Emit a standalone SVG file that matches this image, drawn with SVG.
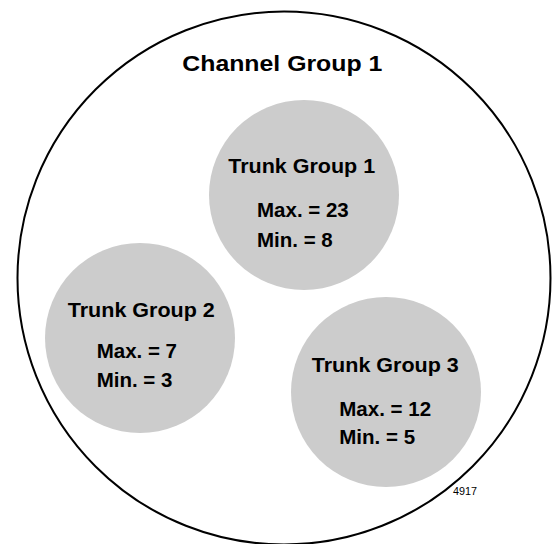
<svg xmlns="http://www.w3.org/2000/svg" width="553" height="544" viewBox="0 0 553 544">
<style>
.t{font-family:"Liberation Sans",Arial,Helvetica,sans-serif;font-weight:bold;fill:#000}
.h{font-size:21px;text-anchor:middle}
.v{font-size:20.5px}
.tg{fill:#cccccc;stroke:none}
</style>
<rect width="553" height="544" fill="#fff"/>
<g id="channel-group-1">
<circle cx="284" cy="278" r="266.5" fill="none" stroke="#000" stroke-width="2"/>
<text class="t" x="282.3" y="71" font-size="22.5" text-anchor="middle" textLength="200" lengthAdjust="spacingAndGlyphs">Channel Group 1</text>
</g>
<g id="trunk-group-1">
<circle class="tg" cx="304" cy="195" r="95"/>
<text class="t h" x="301.7" y="173.3" textLength="147" lengthAdjust="spacingAndGlyphs">Trunk Group 1</text>
<text class="t v" x="257" y="217.3">Max. = 23</text>
<text class="t v" x="257" y="246.7">Min. = 8</text>
</g>
<g id="trunk-group-2">
<circle class="tg" cx="140" cy="338" r="95"/>
<text class="t h" x="141.3" y="316.7" textLength="147" lengthAdjust="spacingAndGlyphs">Trunk Group 2</text>
<text class="t v" x="96.7" y="358.3">Max. = 7</text>
<text class="t v" x="96.7" y="387.3">Min. = 3</text>
</g>
<g id="trunk-group-3">
<circle class="tg" cx="386" cy="392" r="95"/>
<text class="t h" x="385.3" y="371.7" textLength="147" lengthAdjust="spacingAndGlyphs">Trunk Group 3</text>
<text class="t v" x="339.3" y="415.7">Max. = 12</text>
<text class="t v" x="339.3" y="444.3">Min. = 5</text>
</g>
<g id="connectors"></g>
<text x="453" y="495" font-family="Liberation Sans,Arial,Helvetica,sans-serif" font-size="10" fill="#000" textLength="24" lengthAdjust="spacingAndGlyphs">4917</text>
</svg>
